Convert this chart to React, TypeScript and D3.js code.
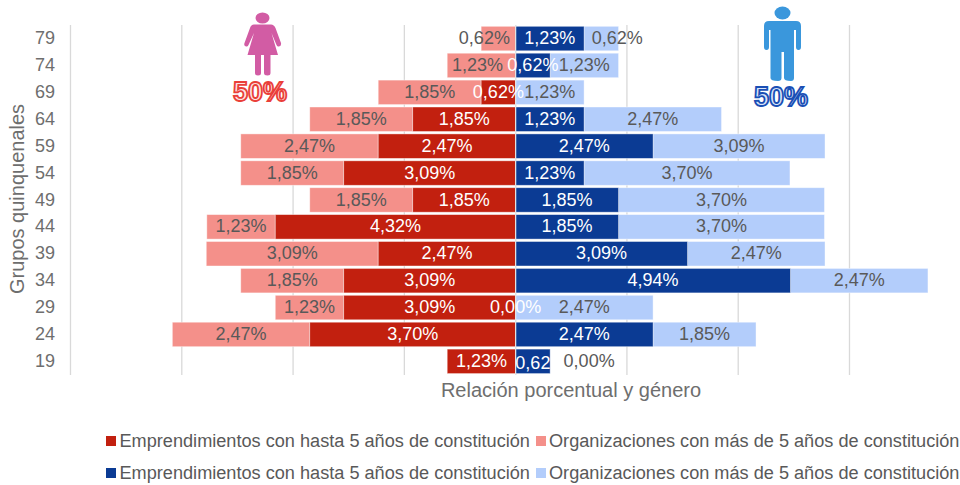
import React from "react";
import * as d3 from "d3";

const ages = ["79", "74", "69", "64", "59", "54", "49", "44", "39", "34", "29", "24", "19"];
// null = no bar and no label in the original
const womenNew = [null, null, 0.62, 1.85, 2.47, 3.09, 1.85, 4.32, 2.47, 3.09, 3.09, 3.7, 1.23];
const womenOld = [0.62, 1.23, 1.85, 1.85, 2.47, 1.85, 1.85, 1.23, 3.09, 1.85, 1.23, 2.47, null];
const menNew = [1.23, 0.62, null, 1.23, 2.47, 1.23, 1.85, 1.85, 3.09, 4.94, 0, 2.47, 0.62];
const menOld = [0.62, 1.23, 1.23, 2.47, 3.09, 3.7, 3.7, 3.7, 2.47, 2.47, 2.47, 1.85, 0];
const ticks = [-8, -6, -4, -2, 0, 2, 4, 6];
const legendNew = "Emprendimientos con hasta 5 años de constitución";
const legendOld = "Organizaciones con más de 5 años de constitución";

const DARK_RED = "#c2200f";
const SALMON = "#f4908a";
const NAVY = "#0b3b94";
const LIGHT_BLUE = "#b3cdfb";
const GREY = "#595959";
const AXIS_GREY = "#6e6e6e";
const FONT = "'Liberation Sans', Arial, sans-serif";

const x = d3.scaleLinear().domain([-8, 6]).range([70.5, 849.5]);
const y = d3.scaleBand().domain(ages).range([25.1, 374.8]).paddingInner(0.09).paddingOuter(0.045);
const fmt = (v: number) => v.toFixed(2).replace(".", ",") + "%";

// labels the original moved away from the bar centre, in px
const labelShift: Record<string, number> = {
  "79-womenOld": -14,
  "74-womenOld": -4,
  "79-menOld": 16,
  "19-menOld": 39,
};

type Seg = { key: string; age: string; x0: number; x1: number; fill: string; labelFill: string; value: number };

function segments(key: string, values: (number | null)[], base: (number | null)[] | null, sign: number, fill: string, labelFill: string) {
  const out: Seg[] = [];
  values.forEach((v, i) => {
    if (v === null) return;
    const start = base ? base[i] ?? 0 : 0;
    out.push({ key, age: ages[i], x0: x(sign * start), x1: x(sign * (start + v)), fill, labelFill, value: v });
  });
  return out;
}

const allSegs = [
  ...segments("womenOld", womenOld, womenNew, -1, SALMON, GREY),
  ...segments("womenNew", womenNew, null, -1, DARK_RED, "#fff"),
  ...segments("menOld", menOld, menNew, 1, LIGHT_BLUE, GREY),
  ...segments("menNew", menNew, null, 1, NAVY, "#fff"),
];

function Woman() {
  return (
    <g fill="#d25ca4">
      <ellipse cx={262.5} cy={18} rx={7} ry={5.5} />
      <path d="M254 24.5 H271 Q274 24.5 275.5 28 L281 43 Q281.5 46 279 46.5 Q277.5 47 276.5 45 L271.5 33 L278 55 H270.5 V73 Q270.5 75.5 267.5 75.5 Q264 75.5 264 73 V55 H261 V73 Q261 75.5 258 75.5 Q255 75.5 255 73 V55 H247.5 L254 33 L248.5 45 Q247.5 47 246 46.5 Q243.5 46 244.5 43 L250 28 Q251 24.5 254 24.5 Z" />
    </g>
  );
}

function Man() {
  return (
    <g fill="#3a97dc">
      <ellipse cx={782.5} cy={13} rx={8} ry={6.5} />
      <path d="M769 21 H796 Q801 21 801 26 V47 Q801 50 798.5 50 Q796 50 796 47 V30 H794 V78 Q794 81 791 81 Q784 81 784 78 V52 H781.5 V78 Q781.5 81 778 81 Q770.5 81 770.5 78 V30 H769 V47 Q769 50 766.5 50 Q764 50 764 47 V26 Q764 21 769 21 Z" />
    </g>
  );
}

function LegendRow({ top, c1, c2 }: { top: number; c1: string; c2: string }) {
  return (
    <g>
      <rect x={106} y={top - 5} width={10} height={10} fill={c1} />
      <text x={119.5} y={top} dy="0.35em" fontSize={18.15} fill={GREY}>{legendNew}</text>
      <rect x={536} y={top - 5} width={10} height={10} fill={c2} />
      <text x={549} y={top} dy="0.35em" fontSize={18.15} fill={GREY}>{legendOld}</text>
    </g>
  );
}

export default function App() {
  const bh = y.bandwidth();
  return (
    <svg width={960} height={485} style={{ position: "absolute", left: 0, top: 0, background: "#fff" }} fontFamily={FONT}>
      {ticks.map((t) => (
        <line key={t} x1={x(t)} x2={x(t)} y1={25} y2={375} stroke="#d9d9d9" strokeWidth={1.3} />
      ))}

      {allSegs.filter((s) => s.value > 0).map((s) => (
        <rect
          key={s.key + s.age}
          x={Math.min(s.x0, s.x1)}
          y={y(s.age)}
          width={Math.abs(s.x1 - s.x0)}
          height={bh}
          fill={s.fill}
          stroke="#fff"
          strokeOpacity={0.5}
          strokeWidth={0.8}
        />
      ))}
      <line x1={x(0)} x2={x(0)} y1={25} y2={375} stroke="#e4e4e4" strokeWidth={1.2} />

      {allSegs.map((s) => {
        const isClipped = s.key === "menNew" && s.age === "19";
        return (
          <text
            key={"l" + s.key + s.age}
            x={(s.x0 + s.x1) / 2 + (labelShift[s.age + "-" + s.key] ?? 0)}
            y={y(s.age)! + bh / 2 - 0.7 + (isClipped ? 2 : 0)}
            dy="0.35em"
            textAnchor="middle"
            fontSize={18}
            fill={s.labelFill}
          >
            {isClipped ? fmt(s.value).replace("%", "") : fmt(s.value)}
          </text>
        );
      })}

      {ages.map((a) => (
        <text key={a} x={55} y={y(a)! + bh / 2 - 0.7} dy="0.35em" textAnchor="end" fontSize={18} fill={AXIS_GREY}>{a}</text>
      ))}

      <text transform="translate(17,199) rotate(-90)" dy="0.35em" textAnchor="middle" fontSize={20} fill={AXIS_GREY}>
        Grupos quinquenales
      </text>
      <text x={571} y={390} dy="0.35em" textAnchor="middle" fontSize={20} fill={AXIS_GREY}>
        Relación porcentual y género
      </text>

      <Woman />
      <Man />
      <text x={260} y={101} textAnchor="middle" fontSize={27} fontWeight="bold" fill="#fde4e2" stroke="#ea3f39" strokeWidth={1.8}>50%</text>
      <text x={781} y={106} textAnchor="middle" fontSize={27} fontWeight="bold" fill="#d8e6fb" stroke="#1a4fb5" strokeWidth={1.8}>50%</text>

      <LegendRow top={441} c1={DARK_RED} c2={SALMON} />
      <LegendRow top={473} c1={NAVY} c2={LIGHT_BLUE} />
    </svg>
  );
}
